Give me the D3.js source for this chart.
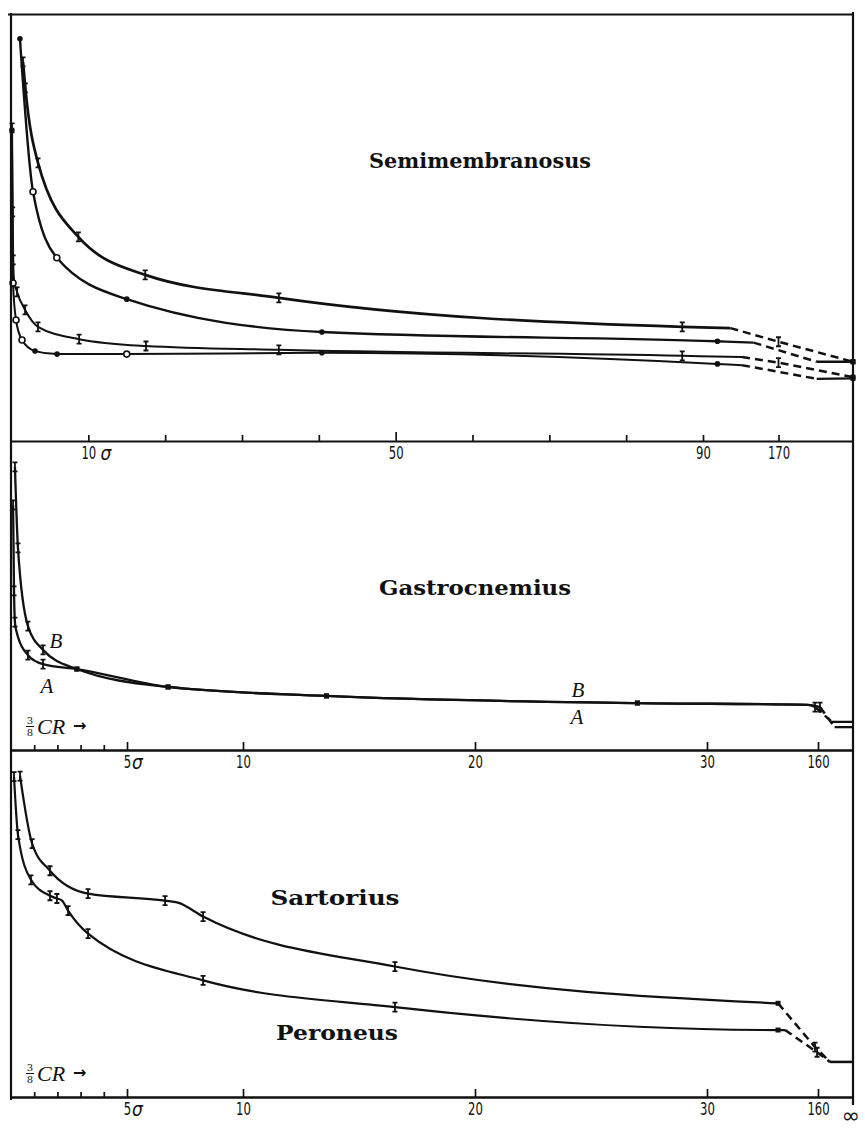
<!DOCTYPE html>
<html>
<head>
<meta charset="utf-8">
<script src="https://cdn.jsdelivr.net/npm/d3@7/dist/d3.min.js"></script>
<style>
  body { margin: 0; background: #fff; }
  svg { display: block; }
  .tick text { font-family: "Liberation Sans Narrow", "DejaVu Sans Condensed", "Liberation Sans", sans-serif; fill: #111; }
</style>
</head>
<body>
<div id="chart"></div>
<script>
// stand-in value for the "infinity" end of each broken x axis
var INF_TOP = 250;
var INF_LOW = 200;

// marker codes: I = error bar, f = filled dot, o = open circle, s = end mark, "" = none

// ---- Semimembranosus (top strip)
var semi1X = [1.5, 1.8, 3.45, 8.7, 17.4, 34.8, 87.3, 119, 170, INF_TOP];
var semi1Y = [89.0, 82.9, 65.3, 47.9, 39.0, 33.6, 26.8, 26.5, 23.3, 18.6];
var semi1M = ["I", "I", "I", "I", "I", "I", "I", "", "I", "s"];

var semi2X = [1.1, 2.8, 5.9, 15.0, 40.4, 105.3, 143.6, 211, INF_TOP];
var semi2Y = [94.4, 58.5, 43.0, 33.3, 25.6, 23.4, 23.1, 18.6, 18.6];
var semi2M = ["f", "o", "o", "f", "f", "f", "", "", "s"];

var semi3X = [0.07, 0.15, 0.22, 0.33, 0.72, 1.76, 3.45, 8.8, 17.5, 34.8, 87.3, 131.4, 170, INF_TOP];
var semi3Y = [73.5, 53.8, 42.5, 37.8, 35.0, 30.8, 26.8, 23.9, 22.3, 21.4, 20.0, 19.7, 18.4, 15.0];
var semi3M = ["I", "I", "I", "", "I", "I", "I", "I", "I", "I", "I", "", "I", "s"];

var semi4X = [0.05, 0.2, 0.59, 1.37, 3.06, 5.93, 15.0, 40.4, 105.3, 131.4, 211, INF_TOP];
var semi4Y = [73.0, 37.1, 28.4, 23.7, 21.1, 20.4, 20.4, 20.7, 18.1, 17.8, 14.6, 14.7];
var semi4M = ["f", "o", "o", "o", "f", "f", "o", "f", "f", "", "", "s"];

// ---- Gastrocnemius (middle strip), curves B and A
var gasBX = [0.17, 0.30, 0.73, 1.38, 2.84, 6.77, 13.6, 27.0, 148.3, 156.5, 176, INF_LOW];
var gasBY = [91.6, 65.4, 40.1, 32.4, 26.2, 20.4, 17.5, 15.2, 14.6, 13.9, 9.1, 9.1];
var gasBM = ["I", "I", "I", "I", "s", "s", "s", "s", "", "I", "", ""];

var gasAX = [0.09, 0.13, 0.17, 0.22, 0.73, 1.38, 2.84, 6.77, 13.6, 27.0, 148.3, 162.3, 179, INF_LOW];
var gasAY = [79.3, 51.5, 41.4, 38.8, 30.7, 27.8, 26.2, 20.4, 17.5, 15.2, 14.6, 13.9, 7.4, 7.4];
var gasAM = ["I", "I", "I", "", "I", "I", "s", "s", "s", "s", "", "I", "", ""];

// ---- Sartorius and Peroneus (bottom strip)
var sarX = [0.39, 0.91, 1.68, 3.32, 6.64, 7.2, 8.28, 16.55, 113.2, 156.5, 173.7, INF_LOW];
var sarY = [92.5, 73.0, 65.2, 58.6, 56.6, 56.0, 52.0, 37.6, 27.0, 14.4, 10.1, 10.1];
var sarM = ["I", "I", "I", "I", "I", "", "I", "I", "s", "I", "", ""];

var perX = [0.13, 0.30, 0.86, 1.68, 1.98, 2.2, 2.46, 3.32, 8.28, 16.55, 113.2, 121.4, 158.9, 173.7, INF_LOW];
var perY = [92.3, 75.6, 62.6, 58.0, 57.2, 56.6, 53.7, 47.1, 33.6, 25.9, 19.3, 19.3, 12.9, 10.1, 10.1];
var perM = ["I", "I", "I", "I", "I", "", "I", "I", "I", "I", "s", "", "I", "", ""];

// ---- tick values and labels
var topTicks = [10, 20, 30, 40, 50, 60, 70, 80, 90, 170];
var topLabels = ["10", "", "", "", "50", "", "", "", "90", "170"];
var lowMinor = [1, 2, 3, 4];
var lowTicks = [5, 10, 20, 30, 160];
var lowLabels = ["5", "10", "20", "30", "160"];

function init() {
    var w = 865, h = 1128;
    var left = 11, right = 853;

    var svg = d3.select("#chart").append("svg")
        .attr("width", w)
        .attr("height", h);

    // broken x scales: linear part, then a jump, then infinity at the right edge
    var xTop = d3.scaleLinear().domain([0, 90, 170, INF_TOP]).range([11.5, 703, 778.5, right]);
    var xLow = d3.scaleLinear().domain([0, 30, 160, INF_LOW]).range([left, 707, 818, right]);

    var yTop = d3.scaleLinear().domain([0, 100]).range([441, 15]);
    var yMid = d3.scaleLinear().domain([0, 100]).range([750, 441]);
    var yBot = d3.scaleLinear().domain([0, 100]).range([1097, 750]);

    function makeCurve(xs, ys, ms, dash, width) {
        return {
            pts: xs.map(function(v, i) { return { x: v, y: ys[i], m: ms[i] }; }),
            dash: dash,
            width: width
        };
    }

    var panels = [
        { x: xTop, y: yTop, curves: [
            makeCurve(semi1X, semi1Y, semi1M, [7, 9], 2.7),
            makeCurve(semi2X, semi2Y, semi2M, [6, 7], 2.4),
            makeCurve(semi3X, semi3Y, semi3M, [11, 13], 2),
            makeCurve(semi4X, semi4Y, semi4M, [9, 10], 2)
        ]},
        { x: xLow, y: yMid, curves: [
            makeCurve(gasBX, gasBY, gasBM, [9, 10], 2.3),
            makeCurve(gasAX, gasAY, gasAM, [11, 12], 2.3)
        ]},
        { x: xLow, y: yBot, curves: [
            makeCurve(sarX, sarY, sarM, [8, 10], 2.2),
            makeCurve(perX, perY, perM, [11, 13], 2.2)
        ]}
    ];

    panels.forEach(function(p) {
        var smooth = d3.line().curve(d3.curveMonotoneX)
            .x(function(d) { return p.x(d.x); })
            .y(function(d) { return p.y(d.y); });
        var straight = d3.line()
            .x(function(d) { return p.x(d.x); })
            .y(function(d) { return p.y(d.y); });

        p.curves.forEach(function(c) {
            var a = c.dash[0], b = c.dash[1];
            svg.append("path")
                .datum(c.pts.slice(0, a + 1))
                .attr("fill", "none").attr("stroke", "#111")
                .attr("stroke-width", c.width)
                .attr("d", smooth);
            svg.append("path")
                .datum(c.pts.slice(a, b + 1))
                .attr("fill", "none").attr("stroke", "#111")
                .attr("stroke-width", 2.5)
                .attr("stroke-dasharray", "8,5")
                .attr("d", straight);
            if (b < c.pts.length - 1) {
                svg.append("path")
                    .datum(c.pts.slice(b))
                    .attr("fill", "none").attr("stroke", "#111")
                    .attr("stroke-width", 2.3)
                    .attr("d", straight);
            }

            // point marks
            c.pts.forEach(function(d) {
                var cx = p.x(d.x), cy = p.y(d.y);
                if (d.m === "I") {
                    svg.append("path")
                        .attr("d", "M" + (cx - 2.5) + "," + (cy - 4.5) + "h5M" + cx + "," + (cy - 4.5) +
                              "v9M" + (cx - 2.5) + "," + (cy + 4.5) + "h5")
                        .attr("fill", "none").attr("stroke", "#111").attr("stroke-width", 1.8);
                } else if (d.m === "f") {
                    svg.append("circle").attr("cx", cx).attr("cy", cy).attr("r", 2.8).attr("fill", "#111");
                } else if (d.m === "o") {
                    svg.append("circle").attr("cx", cx).attr("cy", cy).attr("r", 3)
                        .attr("fill", "#fff").attr("stroke", "#111").attr("stroke-width", 1.6);
                } else if (d.m === "s") {
                    svg.append("rect").attr("x", cx - 2.5).attr("y", cy - 2.5)
                        .attr("width", 5).attr("height", 5).attr("fill", "#111");
                }
            });
        });
    });

    // frame
    svg.append("path")
        .attr("d", "M8,14.5H" + right + "M" + left + ",13V1100M" + right + ",12V1105")
        .attr("fill", "none").attr("stroke", "#111").attr("stroke-width", 2.2);

    // axes
    function styleAxis(g) {
        g.select(".domain").attr("stroke", "#111").attr("stroke-width", 2.2);
        g.selectAll(".tick line").attr("stroke", "#111").attr("stroke-width", 1.7);
        g.selectAll(".tick text").attr("font-size", 18)
            .attr("lengthAdjust", "spacingAndGlyphs")
            .attr("textLength", function() { return this.textContent.length * 7.4; });
    }

    var gTop = svg.append("g")
        .attr("transform", "translate(0," + yTop(0) + ")")
        .call(d3.axisBottom(xTop).tickValues(topTicks).tickSize(-6).tickSizeOuter(0).tickPadding(5)
            .tickFormat(function(d, i) { return topLabels[i]; }))
        .call(styleAxis);
    gTop.selectAll(".tick line").filter(function(d) { return d === 50; }).attr("y2", -9);
    gTop.selectAll(".tick").filter(function(d) { return d === 10; })
        .append("text").attr("x", 17).attr("y", 19)
        .attr("font-family", "DejaVu Serif, serif").attr("font-style", "italic")
        .attr("font-size", 19).attr("fill", "#111").text("σ");

    [yMid, yBot].forEach(function(ys) {
        var g = svg.append("g").attr("transform", "translate(0," + ys(0) + ")");
        g.append("g")
            .call(d3.axisBottom(xLow).tickValues(lowMinor).tickSize(-5).tickSizeOuter(0).tickFormat(""))
            .call(styleAxis);
        var gm = g.append("g")
            .call(d3.axisBottom(xLow).tickValues(lowTicks).tickSize(-8).tickSizeOuter(0).tickPadding(5)
                .tickFormat(function(d, i) { return lowLabels[i]; }))
            .call(styleAxis);
        gm.selectAll(".tick").filter(function(d) { return d === 5; })
            .append("text").attr("x", 10).attr("y", 19)
            .attr("font-family", "DejaVu Serif, serif").attr("font-style", "italic")
            .attr("font-size", 19).attr("fill", "#111").text("σ");

        // 3/8 CR ->
        var cr = svg.append("g").attr("transform", "translate(0," + (ys(0) - 22) + ")")
            .attr("fill", "#111");
        cr.append("text").attr("x", 30).attr("y", -4).attr("text-anchor", "middle")
            .attr("font-family", "DejaVu Serif, serif").attr("font-size", 10).text("3");
        cr.append("line").attr("x1", 26).attr("x2", 34).attr("y1", -1.5).attr("y2", -1.5)
            .attr("stroke", "#111").attr("stroke-width", 1);
        cr.append("text").attr("x", 30).attr("y", 8).attr("text-anchor", "middle")
            .attr("font-family", "DejaVu Serif, serif").attr("font-size", 10).text("8");
        cr.append("text").attr("x", 37).attr("y", 6)
            .attr("font-family", "Liberation Serif, serif").attr("font-style", "italic")
            .attr("font-size", 22).text("CR");
        cr.append("text").attr("x", 73).attr("y", 3)
            .attr("font-family", "DejaVu Sans, sans-serif").attr("font-size", 16).attr("font-weight", "bold")
            .text("→");
    });

    // infinity at the right end of the bottom axis
    svg.append("text").attr("x", 851).attr("y", 1123).attr("text-anchor", "middle")
        .attr("font-family", "DejaVu Sans, sans-serif").attr("font-size", 22).attr("fill", "#111")
        .text("∞");

    // strip titles
    var titles = [
        { t: "Semimembranosus", x: 480, y: 168, len: 222 },
        { t: "Gastrocnemius", x: 475, y: 595, len: 192 },
        { t: "Sartorius", x: 335, y: 905, len: 129 },
        { t: "Peroneus", x: 337, y: 1040, len: 122 }
    ];
    titles.forEach(function(d) {
        svg.append("text").attr("x", d.x).attr("y", d.y).attr("text-anchor", "middle")
            .attr("font-family", "DejaVu Serif, serif").attr("font-weight", "bold")
            .attr("font-size", 20).attr("fill", "#111")
            .attr("textLength", d.len).attr("lengthAdjust", "spacingAndGlyphs")
            .text(d.t);
    });

    // curve letters in the gastrocnemius strip
    var letters = [
        { t: "B", x: 56, y: 648 }, { t: "A", x: 47, y: 693 },
        { t: "B", x: 578, y: 697 }, { t: "A", x: 577, y: 724 }
    ];
    letters.forEach(function(d) {
        svg.append("text").attr("x", d.x).attr("y", d.y).attr("text-anchor", "middle")
            .attr("font-family", "Liberation Serif, serif").attr("font-style", "italic")
            .attr("font-size", 21).attr("fill", "#111").text(d.t);
    });
}

window.onload = init;
</script>
</body>
</html>
